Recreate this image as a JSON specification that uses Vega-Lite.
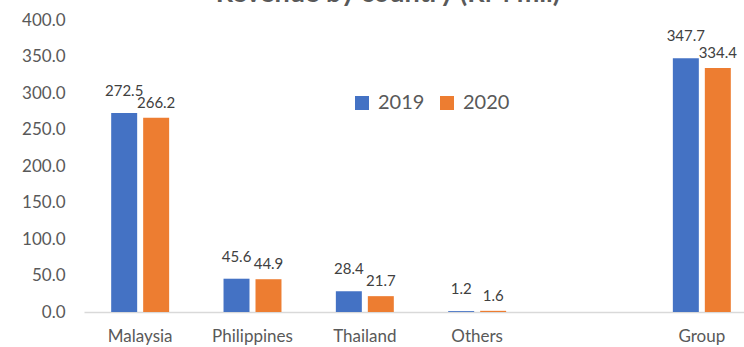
{
  "$schema": "https://vega.github.io/schema/vega-lite/v6.json",
  "autosize": {"type": "none"},
  "width": 660,
  "height": 292,
  "padding": {"left": 84, "top": 20, "right": 0, "bottom": 35},
  "background": "white",
  "config": {
    "font": "Lato",
    "view": {"stroke": null}
  },
  "title": {
    "text": "Revenue by country (RM mil)",
    "fontSize": 27,
    "fontWeight": "bold",
    "color": "#595959",
    "anchor": "middle",
    "frame": "group",
    "baseline": "alphabetic",
    "offset": 2,
    "dy": 20,
    "dx": -26
  },
  "data": {
    "values": [
      {"country": "Malaysia", "year": "2019", "revenue": 272.5},
      {"country": "Malaysia", "year": "2020", "revenue": 266.2},
      {"country": "Philippines", "year": "2019", "revenue": 45.6},
      {"country": "Philippines", "year": "2020", "revenue": 44.9},
      {"country": "Thailand", "year": "2019", "revenue": 28.4},
      {"country": "Thailand", "year": "2020", "revenue": 21.7},
      {"country": "Others", "year": "2019", "revenue": 1.2},
      {"country": "Others", "year": "2020", "revenue": 1.6},
      {"country": "Group", "year": "2019", "revenue": 347.7},
      {"country": "Group", "year": "2020", "revenue": 334.4}
    ]
  },
  "encoding": {
    "x": {
      "field": "country",
      "type": "nominal",
      "sort": null,
      "scale": {
        "domain": ["Malaysia", "Philippines", "Thailand", "Others", " ", "Group"],
        "range": [0, 674],
        "paddingInner": 0.484,
        "paddingOuter": 0.242
      },
      "axis": {
        "title": null,
        "labelAngle": 0,
        "labelFontSize": 17,
        "labelColor": "#595959",
        "labelPadding": 16,
        "ticks": false,
        "domainColor": "#D9D9D9",
        "domainWidth": 1.5
      }
    },
    "xOffset": {
      "field": "year",
      "type": "nominal",
      "scale": {"paddingInner": 0.1875, "paddingOuter": 0}
    },
    "y": {
      "field": "revenue",
      "type": "quantitative",
      "scale": {"domain": [0, 400]},
      "axis": {
        "title": null,
        "format": ".1f",
        "values": [0, 50, 100, 150, 200, 250, 300, 350, 400],
        "labelFontSize": 17,
        "labelColor": "#595959",
        "labelPadding": 19,
        "ticks": false,
        "domain": false,
        "grid": false
      }
    }
  },
  "layer": [
    {
      "mark": {"type": "bar"},
      "encoding": {
        "color": {
          "field": "year",
          "type": "nominal",
          "scale": {"domain": ["2019", "2020"], "range": ["#4472C4", "#ED7D31"]},
          "legend": {
            "title": null,
            "orient": "none",
            "direction": "horizontal",
            "legendX": 268,
            "legendY": 73,
            "symbolType": "square",
            "symbolSize": 196,
            "symbolStrokeWidth": 0,
            "labelFontSize": 20,
            "labelColor": "#595959",
            "labelOffset": 6,
            "columnPadding": 12
          }
        }
      }
    },
    {
      "transform": [{"filter": "datum.year == '2019'"}],
      "mark": {"type": "text", "baseline": "middle", "dy": -22, "fontSize": 15, "color": "#404040"},
      "encoding": {
        "text": {"field": "revenue", "type": "quantitative", "format": ".1f"}
      }
    },
    {
      "transform": [{"filter": "datum.year == '2020'"}],
      "mark": {"type": "text", "baseline": "middle", "dy": -15, "fontSize": 15, "color": "#404040"},
      "encoding": {
        "text": {"field": "revenue", "type": "quantitative", "format": ".1f"}
      }
    }
  ]
}
